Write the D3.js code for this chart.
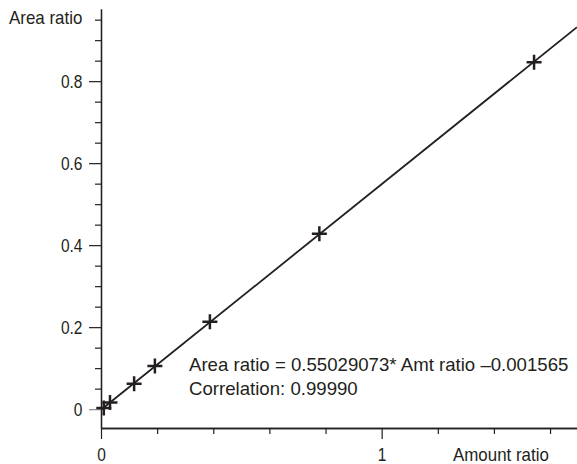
<!DOCTYPE html>
<html>
<head>
<meta charset="utf-8">
<script src="https://cdn.jsdelivr.net/npm/d3@7"></script>
<style>
body { margin: 0; background: #fff; }
text { font-family: "Liberation Sans", Arial, sans-serif; fill: #231f20; }
</style>
</head>
<body>
<svg id="chart" width="577" height="464"></svg>
<script>
// calibration points
var amtRatio = [0.010, 0.032, 0.118, 0.192, 0.388, 0.778, 1.543];
var areaRatio = [0.003, 0.016, 0.062, 0.105, 0.213, 0.428, 0.846];
var slope = 0.55029073;
var intercept = -0.001565;
var yMajor = [0, 0.2, 0.4, 0.6, 0.8];
var yMinor = [0.05, 0.1, 0.15, 0.25, 0.3, 0.35, 0.45, 0.5, 0.55, 0.65, 0.7, 0.75, 0.85, 0.9, 0.95];
var xMajor = [0, 1];
var xMinor = [0.2, 0.4, 0.6, 0.8, 1.2, 1.4, 1.6];
var eqLines = ["Area ratio = 0.55029073* Amt ratio \u20130.001565", "Correlation: 0.99990"];

var svg = d3.select("#chart");
var ink = "#231f20";

var x = d3.scaleLinear().domain([0, 1.696]).range([101, 577]);
var y = d3.scaleLinear().domain([-0.046, 0.976]).range([428, 9]);

// squeeze text so it reads like the condensed face of the original
function narrow(sel, ratio) {
  sel.each(function() {
    var w = this.getComputedTextLength();
    d3.select(this).attr("textLength", w * ratio).attr("lengthAdjust", "spacingAndGlyphs");
  });
}

// y axis: minor then major
svg.append("g").attr("transform", "translate(101,0)")
  .call(d3.axisLeft(y).tickValues(yMinor).tickSize(6).tickSizeOuter(0).tickFormat(""));
var gy = svg.append("g").attr("transform", "translate(101,0)")
  .call(d3.axisLeft(y).tickValues(yMajor).tickSize(12).tickSizeOuter(0).tickPadding(6.5).tickFormat(d3.format("")));

// x axis: minor then major
svg.append("g").attr("transform", "translate(0,428)")
  .call(d3.axisBottom(x).tickValues(xMinor).tickSize(6).tickSizeOuter(0).tickFormat(""));
var gx = svg.append("g").attr("transform", "translate(0,428)")
  .call(d3.axisBottom(x).tickValues(xMajor).tickSize(11).tickSizeOuter(0).tickPadding(9).tickFormat(d3.format("")));

svg.selectAll(".domain").attr("stroke", ink).attr("stroke-width", 1.3);
svg.selectAll(".tick line").attr("stroke", ink).attr("stroke-width", 1.2);
gy.selectAll(".tick").filter(function(d) { return d === 0; }).select("line").attr("stroke", "#8a8a8a");
svg.selectAll(".tick text").attr("font-size", 18.5).attr("fill", ink)
  .style("font-family", "'Liberation Sans', Arial, sans-serif")
  .call(narrow, 0.84);

// axis titles
svg.append("text").attr("x", 9).attr("y", 24).attr("font-size", 19).text("Area ratio").call(narrow, 0.89);
svg.append("text").attr("x", 453).attr("y", 461).attr("font-size", 19).text("Amount ratio").call(narrow, 0.89);

// regression line
var xs = [0, 1.696];
svg.append("path")
  .datum(xs)
  .attr("fill", "none")
  .attr("stroke", ink)
  .attr("stroke-width", 1.8)
  .attr("d", d3.line().x(function(d) { return x(d); }).y(function(d) { return y(slope * d + intercept); }));

// cross markers
var pts = amtRatio.map(function(a, i) { return [a, areaRatio[i]]; });
svg.append("g").selectAll("path.pt")
  .data(pts)
  .join("path")
  .attr("class", "pt")
  .attr("fill", "none")
  .attr("stroke", ink)
  .attr("stroke-width", 2.5)
  .attr("d", function(d) {
    var cx = x(d[0]), cy = y(d[1]), r = 7.5;
    return "M" + (cx - r) + "," + cy + "H" + (cx + r) + "M" + cx + "," + (cy - r) + "V" + (cy + r);
  });

// equation text
svg.append("g").selectAll("text")
  .data(eqLines)
  .join("text")
  .attr("x", 189)
  .attr("y", function(d, i) { return 371 + i * 23.5; })
  .attr("font-size", 19)
  .text(function(d) { return d; })
  .call(narrow, 0.98);
</script>
</body>
</html>
